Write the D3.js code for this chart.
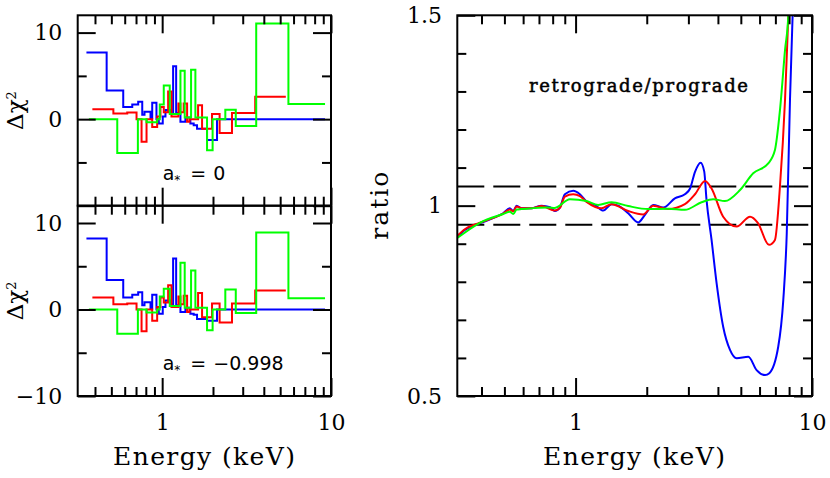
<!DOCTYPE html>
<html>
<head>
<meta charset="utf-8">
<script src="https://cdn.jsdelivr.net/npm/d3@7"></script>
<style>
  body { margin: 0; background: #fff; }
  svg { display: block; }
</style>
</head>
<body>
<div id="chart"></div>
<script>
// tick values
var energyMinor = [0.4, 0.5, 0.6, 0.7, 0.8, 0.9, 2, 3, 4, 5, 6, 7, 8, 9];
var energyMajor = [1, 10];
var chiMajor = [-10, 0, 10];
var chiMinor = [-5, 5];
var ratioMajor = [0.5, 1, 1.5];
var ratioMinor = [0.6, 0.7, 0.8, 0.9, 1.1, 1.2, 1.3, 1.4];
var ratioGuides = [0.95, 1.05];

// delta chi^2 histograms (bin edges in keV, values)
var blueEdges = [0.356, 0.469, 0.588, 0.665, 0.721, 0.762, 0.786, 0.853, 0.873, 0.925, 0.955, 1.008, 1.046, 1.119, 1.161, 1.210, 1.283, 1.373, 1.469, 1.537, 1.609, 1.844, 2.113, 9.22];
var redEdges = [0.386, 0.514, 0.621, 0.705, 0.755, 0.808, 0.873, 0.934, 0.977, 1.022, 1.085, 1.135, 1.248, 1.283, 1.341, 1.405, 1.45, 1.632, 1.723, 1.974, 2.189, 2.591, 3.557, 5.40];
var greenEdges = [0.368, 0.542, 0.718, 0.808, 0.934, 0.968, 1.022, 1.109, 1.283, 1.360, 1.483, 1.573, 1.844, 1.990, 2.366, 2.729, 3.606, 5.595, 9.22];

// a* = 0
var pro0Blue = [7.7, 3.3, 1.4, 1.7, 2.0, 0.5, 0.85, 0.1, 1.9, 0.0, -0.5, 0.3, 1.05, 0.6, 6.1, 0.7, -0.3, 0.2, -0.5, -0.7, -1.1, -2.4, 0.0];
var pro0Red = [1.15, 0.65, 0.78, 0.0, -2.6, 0.0, -0.9, 0.3, 1.4, 0.8, 3.2, 0.3, 1.8, 0.8, 1.8, -0.3, 0.0, 1.6, -1.1, 0.6, -1.6, 0.7, 2.6];
var pro0Green = [0.0, -3.9, 0.0, -0.35, 0.0, 1.7, 3.9, 0.6, 5.6, 0.2, 5.7, 0.2, -3.6, 0.0, 1.1, -0.8, 11.05, 1.75];

// a* = -0.998
var retBlue = [8.2, 3.4, 1.4, 1.7, 2.0, 0.5, 0.85, 0.1, 1.7, 0.0, -0.5, 0.3, 1.05, 0.6, 5.9, 0.5, -0.3, 0.2, -0.5, -0.6, -1.1, -1.3, 0.0];
var retRed = [1.4, 0.6, 0.7, 0.0, -2.5, 0.0, -1.3, 0.3, 1.4, 0.8, 2.8, 0.3, 1.5, 0.6, 1.6, -0.3, 0.0, 1.9, -0.9, 0.7, -1.5, 0.7, 2.2];
var retGreen = [0.0, -2.8, 0.0, -0.35, 0.0, 1.5, 2.4, 0.4, 5.4, 0.2, 4.5, 0.2, -2.4, 0.0, 2.3, -0.4, 8.9, 1.3];

// retrograde/prograde ratio curves
var ratioBlueE = [0.316, 0.34, 0.394, 0.455, 0.494, 0.527, 0.545, 0.563, 0.591, 0.651, 0.718, 0.78, 0.817, 0.858, 0.901, 0.977, 1.043, 1.113, 1.207, 1.309, 1.42, 1.514, 1.669, 1.84, 1.965, 2.13, 2.35, 2.63, 2.90, 3.05, 3.20, 3.38, 3.50, 3.58, 3.76, 3.95, 4.21, 4.50, 4.80, 5.38, 5.83, 6.33, 6.6, 7.20, 7.56, 7.82, 8.07, 8.28, 8.4];
var ratioBlue = [0.918, 0.936, 0.954, 0.969, 0.980, 0.993, 0.986, 1.000, 0.993, 0.993, 1.000, 0.996, 0.986, 0.995, 1.030, 1.039, 1.030, 1.011, 1.002, 0.987, 1.004, 1.000, 0.980, 0.956, 0.976, 1.002, 0.995, 1.019, 1.030, 1.045, 1.089, 1.113, 1.090, 1.015, 0.910, 0.796, 0.682, 0.621, 0.599, 0.603, 0.568, 0.555, 0.560, 0.630, 0.752, 0.927, 1.278, 1.5, 1.6];
var ratioRedE = [0.316, 0.34, 0.394, 0.455, 0.494, 0.527, 0.545, 0.563, 0.591, 0.651, 0.718, 0.817, 0.858, 0.901, 0.977, 1.043, 1.113, 1.288, 1.42, 1.669, 1.93, 2.13, 2.46, 2.90, 3.20, 3.53, 3.76, 4.21, 4.80, 5.47, 5.9, 6.58, 6.97, 7.32, 7.69, 7.94, 8.05];
var ratioRed = [0.921, 0.938, 0.955, 0.969, 0.979, 0.990, 0.985, 0.998, 0.993, 0.993, 0.999, 0.987, 0.994, 1.024, 1.030, 1.025, 1.010, 0.993, 1.004, 0.986, 0.977, 1.000, 0.991, 1.004, 1.030, 1.065, 1.045, 0.971, 0.945, 0.971, 0.955, 0.897, 0.910, 1.051, 1.278, 1.5, 1.6];
var ratioGreenE = [0.316, 0.394, 0.494, 0.527, 0.545, 0.563, 0.591, 0.766, 0.817, 0.946, 1.113, 1.246, 1.42, 1.669, 2.03, 2.46, 2.90, 3.41, 3.82, 4.28, 4.96, 5.64, 6.53, 6.97, 7.32, 7.69, 7.94, 8.05];
var ratioGreen = [0.915, 0.955, 0.978, 0.984, 0.978, 0.990, 0.991, 0.995, 0.994, 1.017, 1.012, 1.002, 1.009, 0.999, 0.991, 0.992, 0.989, 1.009, 1.017, 1.012, 1.041, 1.085, 1.111, 1.146, 1.251, 1.409, 1.5, 1.6];

var width = 830, height = 478;
var serif = "DejaVu Serif", sans = "DejaVu Sans";

var svg = d3.select("#chart").append("svg")
  .attr("width", width)
  .attr("height", height);

var left = {x0: 77.7, x1: 331},
    right = {x0: 457.3, x1: 812},
    yTop = 15.3, yMid = 205.7, yBot = 396;

function stepPoints(edges, vals) {
  var pts = vals.map(function(v, i) { return [edges[i], v]; });
  pts.push([edges[edges.length - 1], vals[vals.length - 1]]);
  return pts;
}

function styleAxis(g, fontSize) {
  g.select(".domain").remove();
  g.selectAll(".tick line").attr("stroke", "#000").attr("stroke-width", 2);
  g.attr("font-family", serif).attr("font-size", fontSize);
  g.selectAll(".tick text").attr("fill", "#000");
}

function frameTicks(g, x, y, x0, x1, y0, y1, yMajor, yMinor, yFmt, yPad, xLabels) {
  g.append("g").attr("transform", "translate(0," + y1 + ")")
    .call(d3.axisBottom(x).tickValues(energyMinor).tickSize(-9).tickFormat(""))
    .call(styleAxis, 22);
  g.append("g").attr("transform", "translate(0," + y1 + ")")
    .call(d3.axisBottom(x).tickValues(energyMajor).tickSize(-18).tickPadding(18)
      .tickFormat(function(d) { return xLabels ? d3.format("")(d) : ""; }))
    .call(styleAxis, 22);
  g.append("g").attr("transform", "translate(0," + y0 + ")")
    .call(d3.axisTop(x).tickValues(energyMinor).tickSize(-9).tickFormat(""))
    .call(styleAxis, 22);
  g.append("g").attr("transform", "translate(0," + y0 + ")")
    .call(d3.axisTop(x).tickValues(energyMajor).tickSize(-18).tickFormat(""))
    .call(styleAxis, 22);
  g.append("g").attr("transform", "translate(" + x0 + ",0)")
    .call(d3.axisLeft(y).tickValues(yMinor).tickSize(-9).tickFormat(""))
    .call(styleAxis, 22);
  g.append("g").attr("transform", "translate(" + x0 + ",0)")
    .call(d3.axisLeft(y).tickValues(yMajor).tickSize(-18).tickPadding(yPad).tickFormat(yFmt))
    .call(styleAxis, 22);
  g.append("g").attr("transform", "translate(" + x1 + ",0)")
    .call(d3.axisRight(y).tickValues(yMinor).tickSize(-9).tickFormat(""))
    .call(styleAxis, 22);
  g.append("g").attr("transform", "translate(" + x1 + ",0)")
    .call(d3.axisRight(y).tickValues(yMajor).tickSize(-18).tickFormat(""))
    .call(styleAxis, 22);
  g.append("rect")
    .attr("x", x0).attr("y", y0)
    .attr("width", x1 - x0).attr("height", y1 - y0)
    .attr("fill", "none").attr("stroke", "#000").attr("stroke-width", 2);
}

function residPanel(y0, y1, series, shown, xLabels, spin) {
  var x = d3.scaleLog().domain([0.316, 10]).range([left.x0, left.x1]);
  var y = d3.scaleLinear().domain([-10, 12]).range([y1, y0]);
  var g = svg.append("g");

  var line = d3.line()
    .x(function(d) { return x(d[0]); })
    .y(function(d) { return y(d[1]); })
    .curve(d3.curveStepAfter);

  series.forEach(function(s) {
    g.append("path")
      .datum(stepPoints(s.edges, s.vals))
      .attr("d", line)
      .attr("fill", "none")
      .attr("stroke", s.color)
      .attr("stroke-width", 2);
  });

  frameTicks(g, x, y, left.x0, left.x1, y0, y1, chiMajor, chiMinor,
    function(d) { return shown.indexOf(d) >= 0 ? d3.format("")(d) : ""; }, 15.5, xLabels);

  var lab = g.append("text")
    .attr("transform", "translate(23," + (y0 + y1) / 2 + ") rotate(-90)")
    .attr("text-anchor", "middle")
    .style("font-family", serif)
    .style("font-size", "23px");
  lab.append("tspan").text("\u0394\u03c7");
  lab.append("tspan").attr("dy", -7).style("font-size", "13px").text("2");

  var note = g.append("text")
    .attr("x", 162.7)
    .attr("y", y1 - 25.7)
    .style("font-family", sans)
    .style("font-size", "19px");
  note.append("tspan").text("a");
  note.append("tspan").attr("dy", 4).style("font-size", "12px").text("*");
  note.append("tspan").attr("dy", -4).attr("dx", 10).text("=");
  note.append("tspan").attr("dx", 7).text(spin);
}

residPanel(yTop, yMid, [
  {edges: blueEdges, vals: pro0Blue, color: "#0000ff"},
  {edges: redEdges, vals: pro0Red, color: "#ff0000"},
  {edges: greenEdges, vals: pro0Green, color: "#00ff00"}
], [0, 10], false, "0");

residPanel(yMid, yBot, [
  {edges: blueEdges, vals: retBlue, color: "#0000ff"},
  {edges: redEdges, vals: retRed, color: "#ff0000"},
  {edges: greenEdges, vals: retGreen, color: "#00ff00"}
], [-10, 0, 10], true, "\u22120.998");

// left x title
svg.append("text")
  .attr("x", 204)
  .attr("y", 465)
  .attr("text-anchor", "middle")
  .attr("textLength", 182)
  .attr("lengthAdjust", "spacing")
  .style("font-family", serif)
  .style("font-size", "25px")
  .text("Energy (keV)");

// ratio panel
(function() {
  var x = d3.scaleLog().domain([0.316, 10]).range([right.x0, right.x1]);
  var y = d3.scaleLinear().domain([0.5, 1.5]).range([yBot, yTop]);
  var g = svg.append("g");

  g.append("clipPath").attr("id", "clipR")
    .append("rect")
    .attr("x", right.x0).attr("y", yTop)
    .attr("width", right.x1 - right.x0).attr("height", yBot - yTop);

  g.selectAll("line.guide")
    .data(ratioGuides).enter()
    .append("line")
    .attr("class", "guide")
    .attr("x1", right.x0).attr("x2", right.x1)
    .attr("y1", function(d) { return y(d); })
    .attr("y2", function(d) { return y(d); })
    .attr("stroke", "#000")
    .attr("stroke-width", 2)
    .attr("stroke-dasharray", "27,9");

  var line = d3.line()
    .x(function(d) { return x(d[0]); })
    .y(function(d) { return y(d[1]); })
    .curve(d3.curveMonotoneX);

  [[ratioBlueE, ratioBlue, "#0000ff"],
   [ratioRedE, ratioRed, "#ff0000"],
   [ratioGreenE, ratioGreen, "#00ff00"]].forEach(function(s) {
    g.append("path")
      .datum(s[0].map(function(e, i) { return [e, s[1][i]]; }))
      .attr("clip-path", "url(#clipR)")
      .attr("d", line)
      .attr("fill", "none")
      .attr("stroke", s[2])
      .attr("stroke-width", 2);
  });

  frameTicks(g, x, y, right.x0, right.x1, yTop, yBot, ratioMajor, ratioMinor,
    d3.format(""), 15.3, true);

  g.append("text")
    .attr("transform", "translate(388," + (yTop + yBot) / 2 + ") rotate(-90)")
    .attr("text-anchor", "middle")
    .attr("textLength", 68)
    .attr("lengthAdjust", "spacing")
    .style("font-family", serif)
    .style("font-size", "25px")
    .text("ratio");

  g.append("text")
    .attr("x", 638.5)
    .attr("y", 91.7)
    .attr("text-anchor", "middle")
    .attr("textLength", 219)
    .attr("lengthAdjust", "spacing")
    .attr("stroke", "#000")
    .attr("stroke-width", 0.5)
    .style("font-family", serif)
    .style("font-size", "18px")
    .text("retrograde/prograde");

  g.append("text")
    .attr("x", 634)
    .attr("y", 465)
    .attr("text-anchor", "middle")
    .attr("textLength", 182)
    .attr("lengthAdjust", "spacing")
    .style("font-family", serif)
    .style("font-size", "25px")
    .text("Energy (keV)");
})();
</script>
</body>
</html>
